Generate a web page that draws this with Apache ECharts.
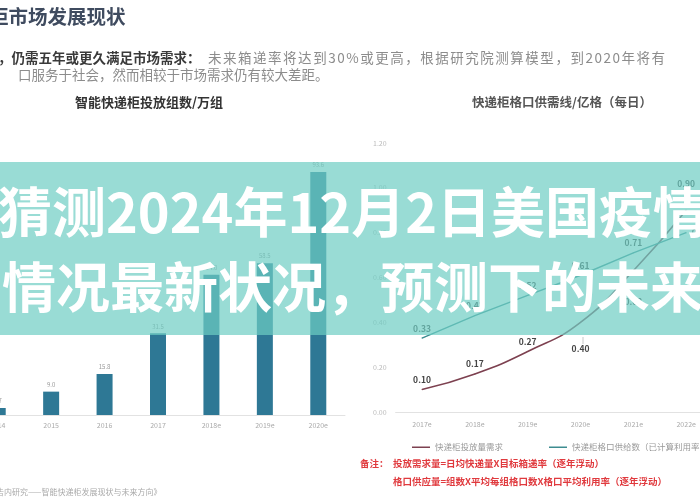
<!DOCTYPE html>
<html><head><meta charset="utf-8">
<script src="https://cdn.jsdelivr.net/npm/echarts@6/dist/echarts.min.js"></script>
<style>html,body{margin:0;padding:0;background:#fff}#c{width:700px;height:500px}</style>
</head><body><div id="c"></div>
<script>
const barCategories = ['2014', '2015', '2016', '2017', '2018e', '2019e', '2020e'];
const barValues = [2.7, 9.0, 15.8, 31.5, 54.0, 58.5, 93.6];
const lineCategories = ['2017e', '2018e', '2019e', '2020e', '2021e', '2022e'];
const demandValues = [0.10, 0.17, 0.27, 0.40, 0.63, 0.90];
const supplyValues = [0.33, 0.43, 0.52, 0.61, 0.71, 0.80];
const legendNames = ['快递柜投放量需求', '快递柜格口供给数（已计算利用率）'];

const FONT = '"Noto Sans CJK SC", "Noto Sans", sans-serif';
const chart = echarts.init(document.getElementById('c'));

const ctx = document.createElement('canvas').getContext('2d');
function justified(str, x0, x1, y, size, color, weight) {
  ctx.font = (weight || 'normal') + ' ' + size + 'px ' + FONT;
  const chars = Array.from(str);
  const widths = chars.map(c => ctx.measureText(c).width);
  const total = widths.reduce((a, b) => a + b, 0);
  const gap = (x1 - x0 - total) / (chars.length - 1);
  let x = x0;
  return chars.map((c, i) => {
    const el = {type: 'text', x: x, y: y, z: 50,
      style: {text: c, fontSize: size, fontFamily: FONT, fontWeight: weight || 'normal', fill: color, verticalAlign: 'middle'}};
    x += widths[i] + gap;
    return el;
  });
}
function txt(t, x, y, size, color, weight, align, z) {
  return {type: 'text', x: x, y: y, z: z || 50,
    style: {text: t, fontSize: size, fontFamily: FONT, fontWeight: weight || 'normal', fill: color,
      align: align || 'left', verticalAlign: 'middle'}};
}

const graphics = [
  txt('柜市场发展现状', -11, 17, 19.5, '#3f4b5f', 'bold'),
  txt('，仍需五年或更久满足市场需求：', -2, 58, 13.5, '#3a3a3a', 'bold'),
  ...justified('未来箱递率将达到30%或更高，根据研究院测算模型，到2020年将有', 208, 665, 58, 13.5, '#8c8c8c'),
  txt('口服务于社会，然而相较于市场需求仍有较大差距。', 18, 75, 13.5, '#8c8c8c'),
  txt('智能快递柜投放组数/万组', 149, 102, 13, '#333', 'bold', 'center'),
  txt('快递柜格口供需线/亿格（每日）', 562, 102, 12.5, '#555', 'bold', 'center'),
  txt('备注：', 360, 463, 9.5, '#e03a3e', 'bold'),
  txt('投放需求量=日均快递量X目标箱递率（逐年浮动）', 393, 463, 9.5, '#e03a3e', 'bold'),
  txt('格口供应量=组数X平均每组格口数X格口平均利用率（逐年浮动）', 393, 481, 9.5, '#e03a3e', 'bold'),
  txt('告内研究——智能快递柜发展现状与未来方向》', -4, 492, 8, '#aaa'),
  {type: 'line', z: 50, shape: {x1: 583, y1: 337, x2: 583, y2: 344}, style: {stroke: '#bbb', lineWidth: 0.8}},
  {type: 'rect', z: 100, shape: {x: 0, y: 162, width: 700, height: 173}, style: {fill: 'rgba(110,205,195,0.7)'}},
  txt('猜测2024年12月2日美国疫情', -2, 212, 54, '#fff', 'bold', 'left', 101),
  txt('情况最新状况，预测下的未来', 2, 287, 54, '#fff', 'bold', 'left', 101)
];

const labelBold = {show: true, position: 'top', fontSize: 8.5, fontWeight: 'bold', color: '#444', fontFamily: FONT,
  formatter: p => p.value.toFixed(2)};

const legendBase = {top: 438, icon: 'rect', itemWidth: 18, itemHeight: 1.5, itemGap: 10,
  textStyle: {fontSize: 8.5, color: '#999'}};

const option = {
  animation: false,
  backgroundColor: '#fff',
  textStyle: {fontFamily: FONT},
  grid: [
    {left: -29, width: 374, top: 155.4, height: 259.6, outerBoundsMode: 'none', containLabel: false},
    {left: 395.6, width: 317, top: 143, height: 269, outerBoundsMode: 'none', containLabel: false}
  ],
  xAxis: [
    {gridIndex: 0, type: 'category', data: barCategories,
      axisLine: {lineStyle: {color: '#e2e2e2'}}, axisTick: {show: false},
      axisLabel: {fontSize: 7, color: '#aaa', margin: 7}},
    {gridIndex: 1, type: 'category', data: lineCategories,
      axisLine: {lineStyle: {color: '#e2e2e2'}}, axisTick: {show: false},
      axisLabel: {fontSize: 7, color: '#aaa', margin: 9}}
  ],
  yAxis: [
    {gridIndex: 0, type: 'value', min: 0, max: 100, show: false},
    {gridIndex: 1, type: 'value', min: 0, max: 1.2, interval: 0.2,
      axisLine: {show: false}, axisTick: {show: false}, splitLine: {show: false},
      axisLabel: {fontSize: 7, color: '#bbb', margin: 9, formatter: v => v.toFixed(2)}}
  ],
  legend: [
    Object.assign({left: 407, data: [legendNames[0]]}, legendBase),
    Object.assign({left: 544, data: [legendNames[1]]}, legendBase)
  ],
  series: [
    {type: 'bar', xAxisIndex: 0, yAxisIndex: 0, data: barValues, barWidth: 16,
      itemStyle: {color: '#2e7895'},
      label: {show: true, position: 'top', fontSize: 6, color: '#999', distance: 4, formatter: p => p.value.toFixed(1)}},
    {type: 'line', name: legendNames[0], xAxisIndex: 1, yAxisIndex: 1, smooth: true,
      data: demandValues.map((v, i) => i === 3 ? {value: v, label: {position: 'bottom', distance: 22}} :
        i === 4 ? {value: v, label: {position: 'bottom', distance: 26}} :
        i === 5 ? {value: v, label: {distance: 22}} : v),
      symbol: 'circle', symbolSize: 1, lineStyle: {color: '#7d4150', width: 1.6}, itemStyle: {color: '#7d4150'},
      label: labelBold},
    {type: 'line', name: legendNames[1], xAxisIndex: 1, yAxisIndex: 1,
      data: supplyValues.map((v, i) => i === 5 ? {value: v, label: {position: 'right'}} : v),
      symbol: 'circle', symbolSize: 1, lineStyle: {color: '#3d8c90', width: 1.4}, itemStyle: {color: '#3d8c90'},
      label: labelBold}
  ],
  graphic: graphics
};
chart.setOption(option);
</script></body></html>
